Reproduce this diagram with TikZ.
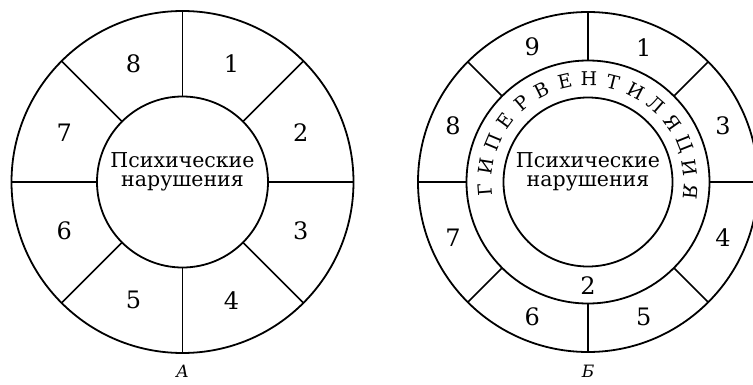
\documentclass[tikz,border=0pt]{standalone}
\usepackage{fontspec}
\setmainfont{DejaVu Serif}
\usetikzlibrary{calc}
\tikzset{
  ring/.style={line width=1.8pt},
  spoke/.style={line width=1.7pt},
  numlbl/.style={font=\fontsize{24}{24}\selectfont, inner sep=0pt},
  centertext/.style={align=center, inner sep=0pt, font=\fontsize{20.5}{19}\selectfont},
  hvletter/.style={font=\fontsize{19}{19}\selectfont, inner sep=0pt},
  caption/.style={font=\fontsize{17}{17}\selectfont\itshape, inner sep=0pt}
}
\begin{document}
\begin{tikzpicture}[x=1pt,y=1pt]
\clip (0,0) rectangle (753,384);
\fill[white] (0,0) rectangle (753,384);

% ---------- Left diagram A ----------
\begin{scope}[shift={(182.5,202)}]
  \coordinate (LC) at (0,0);
  \draw[ring] (LC) circle[radius=171pt];
  \draw[ring] (LC) circle[radius=85.5pt];
  \foreach \a in {0,45,...,315} {
    \coordinate (li\a) at (\a:85.5);
    \coordinate (lo\a) at (\a:171);
    \draw[spoke] (li\a) -- (lo\a);
  }
  \node[numlbl] (l1) at (67.5:128) {1};
  \node[numlbl] (l2) at (22.5:128) {2};
  \node[numlbl] (l3) at (-22.5:128) {3};
  \node[numlbl] (l4) at (-67.5:128) {4};
  \node[numlbl] (l5) at (-112.5:128) {5};
  \node[numlbl] (l6) at (-157.5:128) {6};
  \node[numlbl] (l7) at (157.5:128) {7};
  \node[numlbl] (l8) at (112.5:128) {8};
  \node[centertext] (lct) at (0,10) {Психические\\нарушения};
  \node[caption] (capA) at (0,-189) {А};
\end{scope}

% ---------- Right diagram Б ----------
\begin{scope}[shift={(588,202)}]
  \coordinate (RC) at (0,0);
  \draw[ring] (RC) circle[radius=170pt];
  \draw[ring] (RC) circle[radius=121.5pt];
  \draw[ring] (RC) circle[radius=84.5pt];
  \foreach \a in {0,45,...,315} {
    \coordinate (ri\a) at (\a:121.5);
    \coordinate (ro\a) at (\a:170);
    \draw[spoke] (ri\a) -- (ro\a);
  }
  \node[numlbl] (r1) at (67.5:146) {1};
  \node[numlbl] (r3) at (22.5:146) {3};
  \node[numlbl] (r4) at (-22.5:146) {4};
  \node[numlbl] (r5) at (-67.5:146) {5};
  \node[numlbl] (r6) at (-112.5:146) {6};
  \node[numlbl] (r7) at (-157.5:146) {7};
  \node[numlbl] (r8) at (157.5:146) {8};
  \node[numlbl] (r9) at (112.5:146) {9};
  \node[numlbl] (r2) at (-90:104) {2};
  \foreach \ch [count=\i from 0] in {Г,И,П,Е,Р,В,Е,Н,Т,И,Л,Я,Ц,И,Я} {
    \pgfmathsetmacro\ang{184.5-\i*13.57}
    \node[hvletter, rotate=\ang-90] (hv\i) at (\ang:103) {\ch};
  }
  \node[centertext] (rct) at (0,10) {Психические\\нарушения};
  \node[caption] (capB) at (0,-189) {Б};
\end{scope}
\end{tikzpicture}
\end{document}
